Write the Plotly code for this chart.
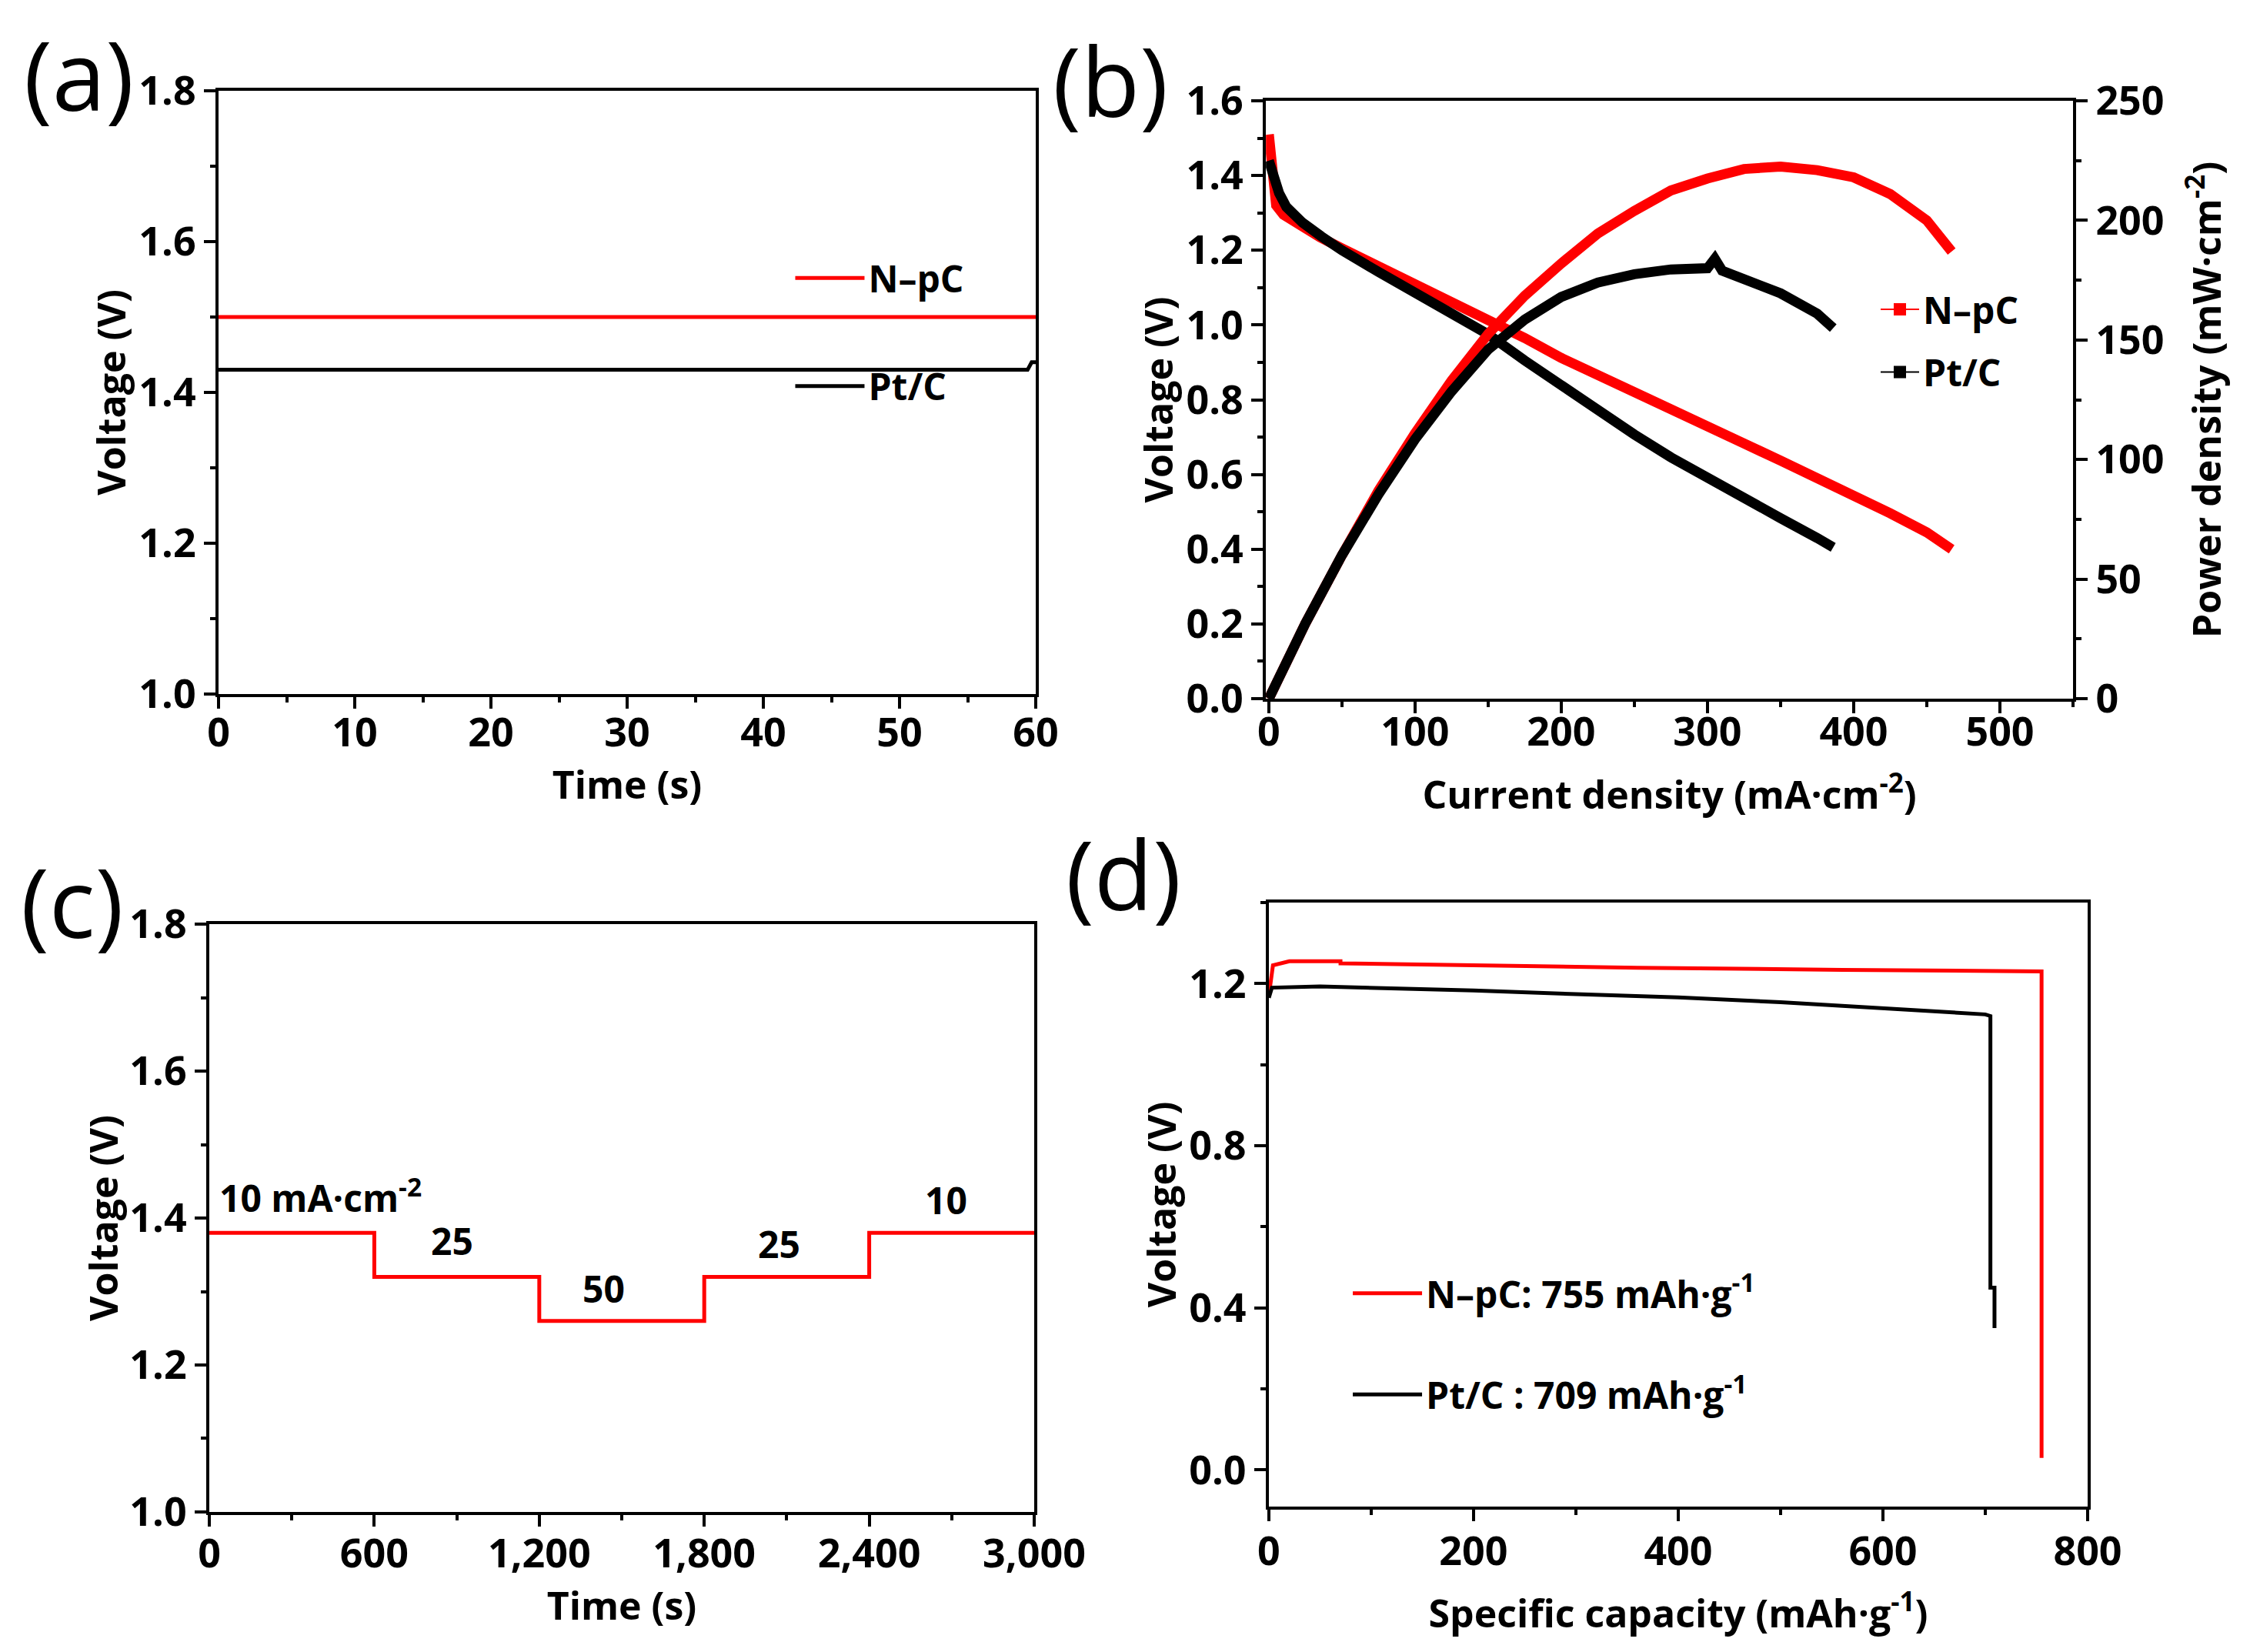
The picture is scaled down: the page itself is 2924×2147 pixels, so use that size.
import plotly.graph_objects as go

# ---- data ----
# (a) open circuit voltage vs time
ocv_time_npc = [0, 60]
ocv_volt_npc = [1.50, 1.50]
ocv_time_pt = [0, 59.4, 59.7, 60]
ocv_volt_pt = [1.43, 1.43, 1.44, 1.44]

# (b) polarization + power density
pol_i_npc = [0, 1, 2, 3, 5, 10, 20, 35, 50, 75, 100, 125, 150, 175, 200, 225,
             250, 275, 300, 325, 350, 375, 400, 425, 450, 467]
pol_v_npc = [1.51, 1.47, 1.40, 1.34, 1.32, 1.295, 1.268, 1.235, 1.205, 1.158, 1.111,
             1.064, 1.017, 0.965, 0.912, 0.865, 0.817, 0.773, 0.728, 0.683, 0.637,
             0.592, 0.546, 0.496, 0.445, 0.40]
pow_i_npc = [0, 10, 25, 50, 75, 100, 125, 150, 175, 200, 225, 250, 275, 300, 325,
             350, 375, 400, 425, 450, 467]
pow_p_npc = [0, 13, 31.5, 60, 87, 111, 133, 152.5, 168.5, 182, 194.5, 204, 212.5,
             217.5, 221.5, 222.5, 221, 218, 211, 200, 187]

pol_i_pt = [0, 3, 7, 12, 23, 36, 50, 75, 100, 125, 150, 175, 200, 225, 250, 275,
            300, 325, 350, 375, 386]
pol_v_pt = [1.44, 1.40, 1.353, 1.316, 1.274, 1.237, 1.20, 1.142, 1.085, 1.03, 0.975,
            0.905, 0.838, 0.772, 0.707, 0.646, 0.59, 0.536, 0.483, 0.43, 0.405]
pow_i_pt = [0, 10, 25, 50, 75, 100, 125, 150, 175, 200, 225, 250, 275, 300, 305,
            310, 325, 350, 375, 386]
pow_p_pt = [0, 13.3, 31.5, 60, 85.5, 108.5, 128.5, 146, 158.5, 168, 174, 177.5,
            179.5, 180, 184, 179, 175.5, 169.5, 161, 155]

# (c) rate performance
rate_time = [0, 600, 1200, 1800, 2400, 3000]
rate_volt = [1.38, 1.32, 1.26, 1.32, 1.38, 1.38]
rate_labels = ["10 mA·cm<sup>-2</sup>", "25", "50", "25", "10"]
rate_label_x = [30, 884, 1433, 2071, 2679]
rate_label_y = [1.43, 1.369, 1.304, 1.365, 1.425]

# (d) discharge capacity
cap_npc = [0, 4, 20, 70, 70, 230, 360, 560, 740, 755, 755]
cap_v_npc = [1.17, 1.245, 1.255, 1.255, 1.25, 1.244, 1.239, 1.234, 1.232, 1.23, 0.03]
cap_pt = [0, 3, 50, 100, 200, 300, 400, 500, 600, 650, 700, 705, 705, 709, 709]
cap_v_pt = [1.165, 1.19, 1.193, 1.19, 1.183, 1.174, 1.166, 1.154, 1.139, 1.132,
            1.124, 1.12, 0.45, 0.45, 0.35]

RED = "#ff0000"
BLACK = "#000000"
FONT = "Open Sans"
W, H = 2924, 2147

fig = go.Figure()

# (a)
fig.add_trace(go.Scatter(x=ocv_time_npc, y=ocv_volt_npc, mode="lines", name="N–pC",
                         line=dict(color=RED, width=5), xaxis="x", yaxis="y",
                         legend="legend", legendgroup="a1"))
fig.add_trace(go.Scatter(x=ocv_time_pt, y=ocv_volt_pt, mode="lines", name="Pt/C",
                         line=dict(color=BLACK, width=5), xaxis="x", yaxis="y",
                         legend="legend", legendgroup="a2"))

# (b)
for xs, ys, col, yax in [(pol_i_npc, pol_v_npc, RED, "y2"), (pow_i_npc, pow_p_npc, RED, "y3"),
                         (pol_i_pt, pol_v_pt, BLACK, "y2"), (pow_i_pt, pow_p_pt, BLACK, "y3")]:
    fig.add_trace(go.Scatter(x=xs, y=ys, mode="lines", line=dict(color=col, width=13),
                             xaxis="x2", yaxis=yax, showlegend=False))
# legend-only samples for (b)
for nm, col, grp in [("N–pC", RED, "b1"), ("Pt/C", BLACK, "b2")]:
    fig.add_trace(go.Scatter(x=[None], y=[None], mode="lines+markers", name=nm,
                             line=dict(color=col, width=2),
                             marker=dict(symbol="square", size=17, color=col),
                             xaxis="x2", yaxis="y2", legend="legend2", legendgroup=grp))

# (c)
fig.add_trace(go.Scatter(x=rate_time, y=rate_volt, mode="lines", line_shape="hv",
                         line=dict(color=RED, width=5), xaxis="x3", yaxis="y4",
                         showlegend=False))

# (d)
fig.add_trace(go.Scatter(x=cap_npc, y=cap_v_npc, mode="lines",
                         name="N–pC: 755 mAh·g<sup>-1</sup>",
                         line=dict(color=RED, width=5), xaxis="x4", yaxis="y5",
                         legend="legend3", legendgroup="d1"))
fig.add_trace(go.Scatter(x=cap_pt, y=cap_v_pt, mode="lines",
                         name="Pt/C : 709 mAh·g<sup>-1</sup>",
                         line=dict(color=BLACK, width=5), xaxis="x4", yaxis="y5",
                         legend="legend3", legendgroup="d2"))

tickfont = dict(family=FONT, size=52, color="black", weight="bold")
titlefont = dict(family=FONT, size=50, color="black", weight="bold")
legfont = dict(family=FONT, size=48, color="black", weight="bold")


def ax(domain, rng, dtick, minor, title, standoff, anchor, tickformat=None, **kw):
    d = dict(domain=domain, range=rng, dtick=dtick, tick0=0, anchor=anchor,
             showline=True, linewidth=4, linecolor="black", mirror=True,
             ticks="outside", ticklen=15, tickwidth=4, tickcolor="black",
             minor=dict(dtick=minor, ticks="outside", ticklen=7, tickwidth=4,
                        tickcolor="black"),
             showgrid=False, zeroline=False, tickfont=tickfont, automargin=False,
             title=dict(text=title, font=titlefont, standoff=standoff))
    if tickformat:
        d["tickformat"] = tickformat
    d.update(kw)
    return d


fig.update_layout(
    width=W, height=H,
    margin=dict(l=0, r=0, t=0, b=0, autoexpand=False),
    paper_bgcolor="white", plot_bgcolor="white",
    font=dict(family=FONT, color="black"),
    xaxis=ax([0.0944, 0.4576], [0, 60], 10, 5, "Time (s)", 2, "y", ticklabelstandoff=-13),
    yaxis=ax([0.5836, 0.9488], [1.0, 1.8], 0.2, 0.1, "Voltage (V)", 2, "x", ".1f"),
    xaxis2=ax([0.5599, 0.9186], [-2, 550], 100, 50,
              "Current density (mA·cm<sup>-2</sup>)", 34, "y2", ticklabelstandoff=-20),
    yaxis2=ax([0.5808, 0.9427], [0, 1.6], 0.2, 0.1, "Voltage (V)", 2, "x2", ".1f"),
    yaxis3=ax([0.5808, 0.9427], [0, 250], 50, 25,
              "Power density (mW·cm<sup>-2</sup>)", 40, "x2",
              overlaying="y2", side="right", mirror=False),
    xaxis3=ax([0.0903, 0.4569], [0, 3000], 600, 300, "Time (s)", 0, "y4", ",",
              ticklabelstandoff=-9),
    yaxis4=ax([0.0885, 0.4443], [1.0, 1.8], 0.2, 0.1, "Voltage (V)", 0, "x3", ".1f"),
    xaxis4=ax([0.5612, 0.9251], [0, 800], 200, 100,
              "Specific capacity (mAh·g<sup>-1</sup>)", 33, "y5", ticklabelstandoff=-5),
    yaxis5=ax([0.0918, 0.4574], [-0.09, 1.4], 0.4, 0.2, "Voltage (V)", 2, "x4", ".1f"),
    legend=dict(x=0.349, y=0.853, xanchor="left", yanchor="top", bgcolor="rgba(0,0,0,0)",
                font=legfont, itemwidth=90, traceorder="grouped", tracegroupgap=75),
    legend2=dict(x=0.8314, y=0.834, xanchor="left", yanchor="top", bgcolor="rgba(0,0,0,0)",
                 font=legfont, itemwidth=50, traceorder="grouped", tracegroupgap=16),
    legend3=dict(x=0.5968, y=0.2384, xanchor="left", yanchor="top", bgcolor="rgba(0,0,0,0)",
                 font=legfont, itemwidth=90, traceorder="grouped", tracegroupgap=66),
)

# step labels in (c)
for txt, lx, ly in zip(rate_labels, rate_label_x, rate_label_y):
    fig.add_annotation(x=lx, y=ly, xref="x3", yref="y4", text=txt, showarrow=False,
                       xanchor="left" if txt.startswith("10 mA") else "center",
                       font=dict(family=FONT, size=48, color="black", weight="bold"))

# panel letters
for letter, px, py in [("(a)", 94, 88), ("(b)", 1435, 96), ("(c)", 86, 1162), ("(d)", 1452, 1126)]:
    fig.add_annotation(x=px / W, y=1 - py / H, xref="paper", yref="paper", text=letter,
                       showarrow=False, xanchor="center", yanchor="middle",
                       font=dict(family=FONT, size=125, color="black"))

fig.write_html("out.html")
